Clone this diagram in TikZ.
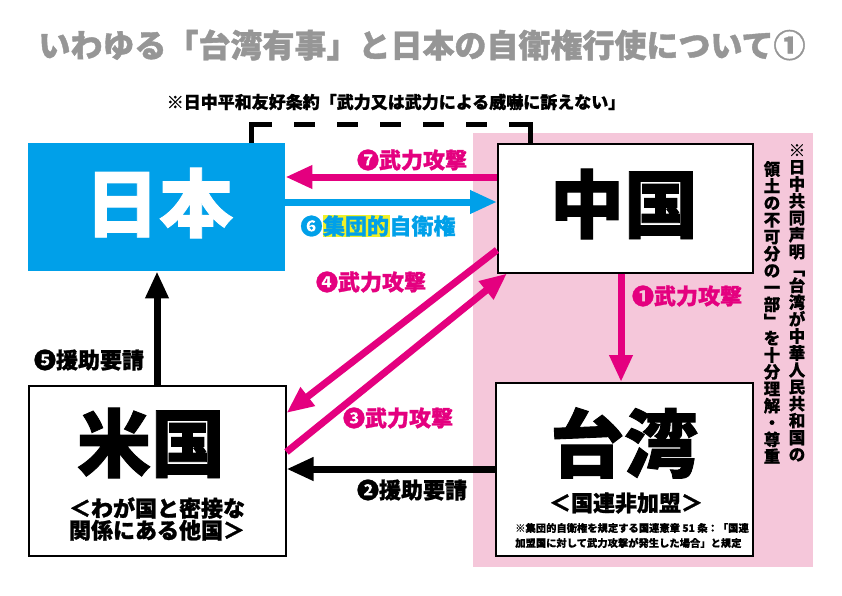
\documentclass[tikz,border=0pt]{standalone}
\usepackage{fontspec}
\setmainfont{Noto Sans CJK JP}[BoldFeatures={FakeBold=1.2}]
\newfontfamily\lightbold{Noto Sans CJK JP}[BoldFeatures={FakeBold=0.4}]
\usetikzlibrary{arrows.meta}
\definecolor{jpblue}{RGB}{0,160,233}
\definecolor{mag}{RGB}{228,0,127}
\definecolor{pinkbg}{RGB}{245,199,218}
\definecolor{titlegray}{RGB}{150,150,150}
\definecolor{hl}{RGB}{240,240,40}
\begin{document}
\begin{tikzpicture}[x=1pt,y=-1pt,
  boxw/.style={draw=black, line width=1.5pt, fill=white, inner sep=0pt, anchor=north west},
  bigtxt/.style={font=\bfseries\fontsize{74}{80}\selectfont, inner sep=0pt},
  subtxt/.style={font=\bfseries\fontsize{22}{22}\selectfont, inner sep=0pt, align=center},
  lbl/.style={font=\bfseries\fontsize{22}{24}\selectfont, inner sep=0pt},
  vtxt/.style={font=\lightbold\bfseries\fontsize{16.5}{16.9}\selectfont, inner sep=0pt, align=center, anchor=north},
  arr/.style={line width=7pt, -{Triangle[length=27pt,width=22pt]}},
  magarr/.style={arr, draw=mag},
  bluearr/.style={arr, draw=jpblue},
  blkarr/.style={arr, draw=black},
  bracket/.style={draw=black, line width=5pt, line cap=butt, line join=miter,
    dash pattern=on 40pt off 22pt on 21pt off 22pt on 21pt off 22pt on 21pt off 22pt on 21pt off 22pt on 21pt off 22pt on 40pt off 0pt}
]
\useasboundingbox (0,0) rectangle (842,595);
\fill[white] (0,0) rectangle (842,595);

% helper coordinates
\coordinate (h124) at (0,124);
\coordinate (h177) at (0,177);
\coordinate (h202) at (0,202);
\coordinate (h250) at (0,250);
\coordinate (h413) at (0,413);
\coordinate (h452) at (0,452);
\coordinate (h469) at (0,469);
\coordinate (v157) at (157,0);
\coordinate (v251) at (251,0);
\coordinate (v530) at (530,0);
\coordinate (v621) at (621,0);

% title
\node[font=\bfseries\fontsize{32}{36}\selectfont, text=titlegray, inner sep=0pt] (title) at (422,45)
  {いわゆる「台湾有事」と日本の自衛権行使について①};

% pink area
\node[fill=pinkbg, minimum width=340pt, minimum height=434pt, inner sep=0pt, anchor=north west] (pinkarea) at (473,133) {};

% boxes
\node[fill=jpblue, inner sep=0pt, anchor=north west, minimum width=257pt, minimum height=128pt] (japan) at (28,143) {};
\node[boxw, minimum width=255pt, minimum height=129pt] (china) at (497,143) {};
\node[boxw, minimum width=257pt, minimum height=173pt] (taiwan) at (495,382) {};
\node[boxw, minimum width=257pt, minimum height=170pt] (usa) at (28,385) {};

% box texts
\node[bigtxt, text=white] (japanlbl) at (159,203) {日本};
\node[bigtxt] (chinalbl) at (624,204) {中国};
\node[bigtxt] (taiwanlbl) at (624,443) {台湾};
\node[bigtxt] (usalbl) at (151,443) {米国};
\node[subtxt] (taiwansub) at (626,503) {＜国連非加盟＞};
\node[subtxt] (usasub) at (157,519) {＜わが国と密接な\\関係にある他国＞};
\node[font=\lightbold\bfseries\fontsize{10.3}{15}\selectfont, inner sep=0pt, align=left] (taiwannote) at (632,535.5)
  {※集団的自衛権を規定する国連憲章 51 条：「国連\\加盟国に対して武力攻撃が発生した場合」と規定};

% treaty note and bracket
\node[font=\bfseries\fontsize{17}{18}\selectfont, inner sep=0pt] (treaty) at (396,102)
  {※日中平和友好条約「武力又は武力による威嚇に訴えない」};
\draw[bracket] (japan.north -| v251) -- (h124 -| v251) -- (h124 -| v530) -- (china.north -| v530);

% vertical note
\node[vtxt] (vnote1) at (797,144) {※\\日\\中\\共\\同\\声\\明\\﹁\\台\\湾\\が\\中\\華\\人\\民\\共\\和\\国\\の};
\node[vtxt] (vnote2) at (772,161) {領\\土\\の\\不\\可\\分\\の\\一\\部\\﹂\\を\\十\\分\\理\\解\\・\\尊\\重};

% arrows
\draw[magarr] (china.west |- h177) -- (japan.east |- h177);
\draw[bluearr] (japan.east |- h202) -- (china.west |- h202);
\draw[magarr] (china.west |- h250) -- (usa.east |- h413);
\draw[magarr] (usa.east |- h452) -- ([xshift=10pt]china.south west);
\draw[magarr] (china.south -| v621) -- (taiwan.north -| v621);
\draw[blkarr] (taiwan.west |- h469) -- (usa.east |- h469);
\draw[blkarr] (usa.north -| v157) -- (japan.south -| v157);

% arrow labels
\node[lbl, text=mag] (l7) at (412,160) {❼武力攻撃};
\node[lbl, text=jpblue] (l6) at (378,226) {❻{\setlength\fboxsep{0.5pt}\colorbox{hl}{集団的}}自衛権};
\node[lbl, text=mag] (l4) at (371,282) {❹武力攻撃};
\node[lbl, text=mag] (l3) at (398,418) {❸武力攻撃};
\node[lbl, text=mag] (l1) at (687,296) {❶武力攻撃};
\node[lbl] (l2) at (412,490) {❷援助要請};
\node[lbl] (l5) at (89,360) {❺援助要請};
\end{tikzpicture}
\end{document}
